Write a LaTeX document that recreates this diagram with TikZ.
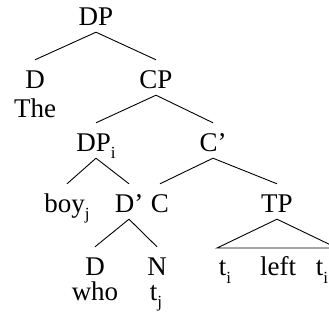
\documentclass[tikz,border=0pt]{standalone}
\usepackage{fontspec}
\setmainfont{Liberation Serif}
\usepackage{tikz}
\usepackage{xcolor}

\newcommand\sub[1]{\raisebox{-7pt}{\fontsize{17}{17}\selectfont #1}}

\tikzset{
  cat/.style={anchor=base, inner sep=0pt, text height=19pt, text depth=0pt,
    font=\fontsize{27}{30}\selectfont},
  branch/.style={line width=0.9pt}
}

\begin{document}
\begin{tikzpicture}[x=1pt,y=-1pt]
\clip (0,0) rectangle (329,320);
% categories, row by row
\node[cat] (DP) at (96,26) {DP};
\node[cat] (D) at (35,89) {D};
\node[cat] (CP) at (156,89) {CP};
\node[cat] (The) at (35,118) {The};
\node[cat] (DPi) at (96,152) {DP\sub{i}};
\node[cat] (Cbar) at (213,152) {C’};
\node[cat] (boy) at (67,213) {boy\sub{j}};
\node[cat] (Dbar) at (129,213) {D’};
\node[cat] (C) at (160,213) {C};
\node[cat] (TP) at (277,213) {TP};
\node[cat] (Dlow) at (95,276) {D};
\node[cat] (N) at (157,276) {N};
\node[cat] (ti1) at (225,276) {t\sub{i}};
\node[cat] (left) at (278,276) {left};
\node[cat] (ti2) at (322,276) {t\sub{i}};
\node[cat] (who) at (95,300) {who};
\node[cat] (tj) at (156,300) {t\sub{j}};
% branches
\foreach \a/\b in {DP/D, DP/CP, CP/DPi, CP/Cbar, DPi/boy, DPi/Dbar,
                   Cbar/C, Cbar/TP, Dbar/Dlow, Dbar/N}
  \draw[branch] ([yshift=-6pt]\a.south) -- ([yshift=10pt]\b.north);
% triangle over TP
\coordinate (TPl) at (217,248);
\coordinate (TPr) at (337,248);
\draw[branch] ([yshift=-6pt]TP.south) -- (TPl) -- (TPr) -- cycle;
\end{tikzpicture}
\end{document}
